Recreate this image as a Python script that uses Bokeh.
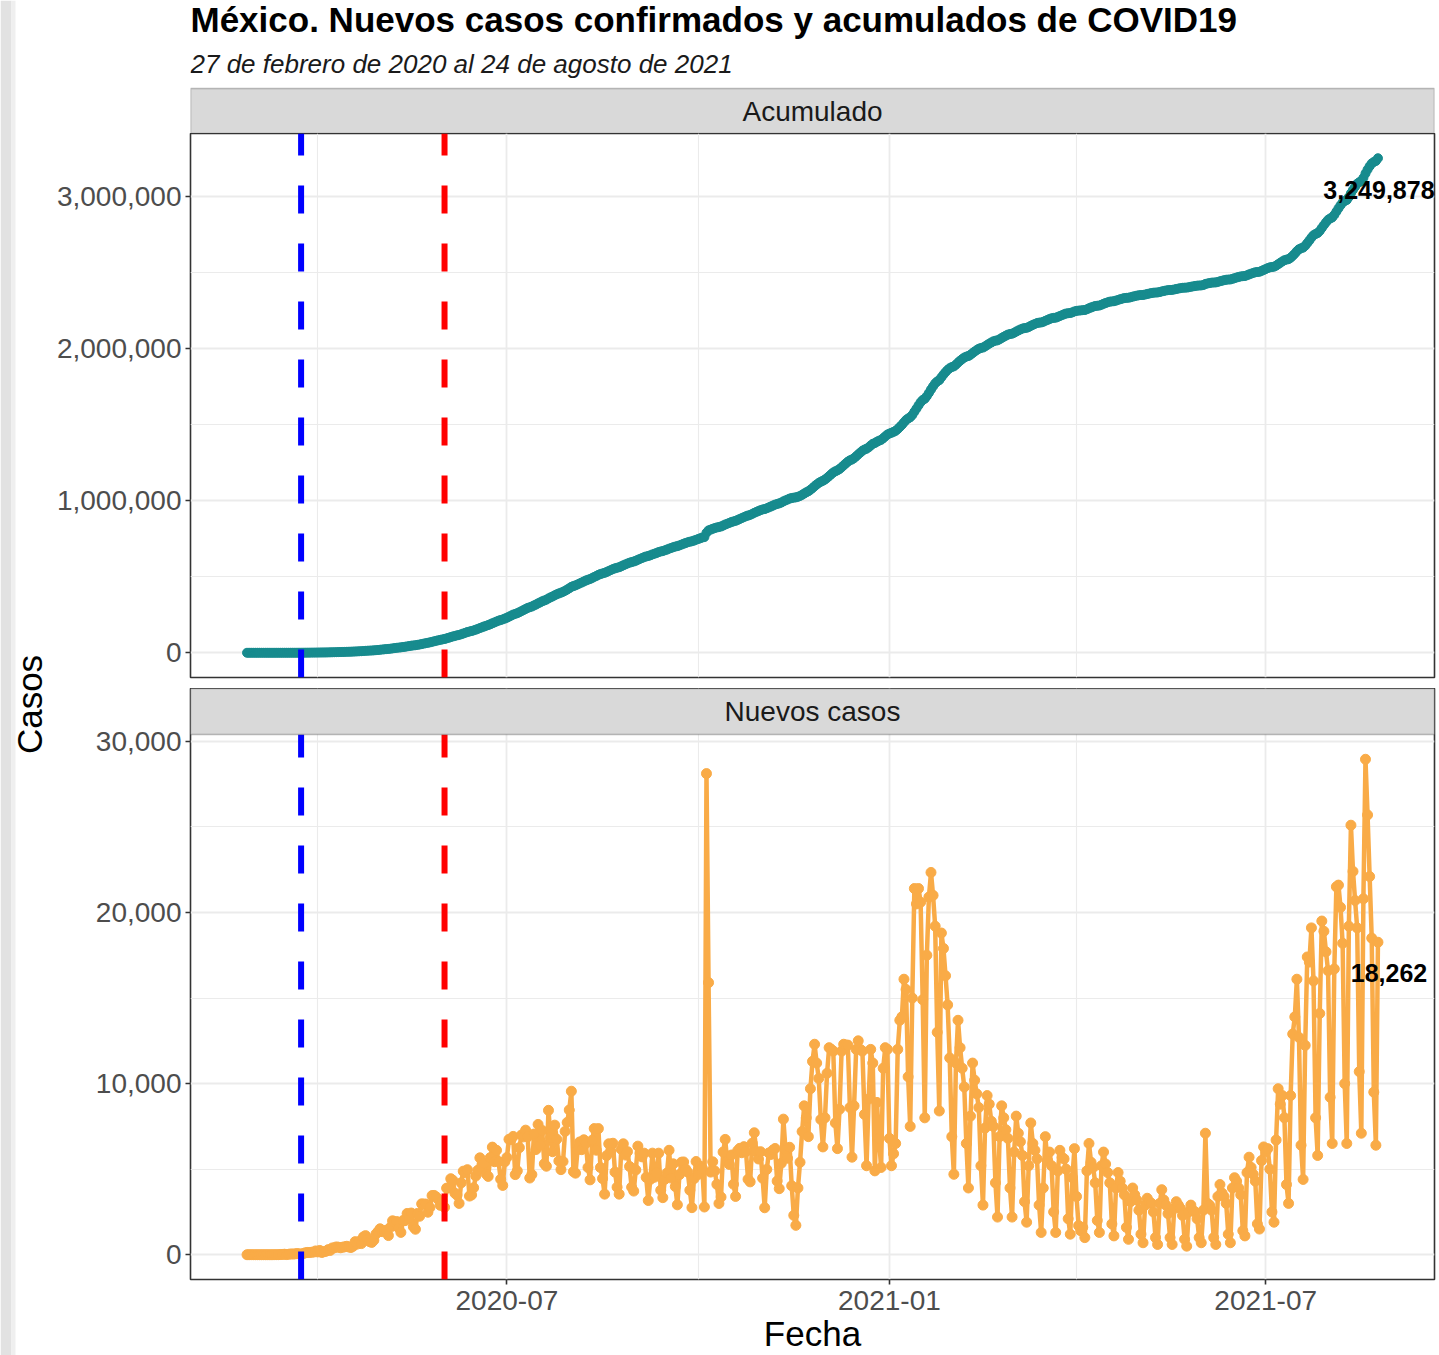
import math
import pandas as pd
from bokeh.plotting import figure
from bokeh.layouts import column, row
from bokeh.models import (ColumnDataSource, Range1d, FixedTicker, NumeralTickFormatter,
                          DatetimeTickFormatter, Label, BoxAnnotation)
from bokeh.embed import file_html
from bokeh.resources import INLINE
from bokeh.core.properties import value

# ---------------- data ----------------
titulo = "México. Nuevos casos confirmados y acumulados de COVID19"
subtitulo = "27 de febrero de 2020 al 24 de agosto de 2021"
panel_acumulado = "Acumulado"
panel_nuevos = "Nuevos casos"
eje_x = "Fecha"
eje_y = "Casos"

fecha_inicio = "2020-02-27"
fecha_fin = "2021-08-24"

# events (vertical dashed lines)
inicio_jornada = "2020-03-24"
fin_jornada = "2020-06-01"

# daily new confirmed cases
nuevos_2020_02 = [1, 1, 2]
nuevos_2020_03 = [1, 0, 1, 0, 0, 1, 0,
                  1, 0, 0, 3, 4, 4, 14,
                  15, 29, 11, 25, 46, 39, 48,
                  65, 51, 38, 70, 110, 132, 131,
                  145, 155, 222]
nuevos_2020_04 = [163, 249, 132, 178, 202, 296, 253,
                  396, 403, 457, 437, 405, 442, 461,
                  494, 450, 422, 493, 764, 622, 779,
                  652, 1043, 1116, 869, 762, 720, 845,
                  1208, 1349]
nuevos_2020_05 = [1515, 1349, 1383, 1434, 1120, 1609, 1982,
                  1906, 1938, 1562, 1305, 1997, 1992, 2409,
                  2112, 2437, 1632, 1489, 2414, 2248, 2973,
                  2960, 2960, 2483, 2764, 3455, 3463, 3377,
                  3227, 2885, 3152]
nuevos_2020_06 = [2771, 3891, 3912, 4442, 4346, 3593, 3484,
                  2999, 4199, 4883, 4790, 4970, 3427, 3494,
                  3912, 4599, 4930, 5662, 5030, 5343, 4717,
                  4577, 5674, 6288, 5437, 6104, 5441, 4410,
                  4050, 5432]
nuevos_2020_07 = [5681, 6741, 6740, 6914, 4683, 4902, 6258,
                  6995, 6887, 7280, 6891, 4482, 4685, 7051,
                  6149, 7615, 6406, 7257, 5311, 5172, 8438,
                  6859, 6019, 7573, 6751, 5480, 4973, 5446,
                  7208, 7730, 8458]
nuevos_2020_08 = [9556, 4853, 4767, 6148, 6590, 6139, 6717,
                  6495, 5097, 4376, 6686, 7371, 6107, 7371,
                  5094, 4448, 3541, 5792, 6482, 6025, 6515,
                  4828, 3948, 3541, 6164, 6482, 5824, 6025,
                  5158, 3948, 3719]
nuevos_2020_09 = [4954, 6345, 5937, 5718, 5936, 4522, 3168,
                  4404, 5937, 4529, 4786, 5935, 3771, 3335,
                  4408, 4771, 6104, 4479, 5312, 3985, 2917,
                  4683, 5408, 5422, 5002, 4828, 3771, 2751,
                  4444, 5447]
nuevos_2020_10 = [4689, 5172, 5054, 2789, 28115, 15900, 4828,
                  5430, 4894, 4112, 2994, 3369, 6004, 6739,
                  5446, 5275, 5827, 4119, 3406, 6081, 6215,
                  5960, 6316, 6025, 4407, 4258, 6519, 7127,
                  6025, 5595, 6022]
nuevos_2020_11 = [4472, 2744, 4985, 5948, 5860, 6117, 6208,
                  4303, 3860, 5344, 7924, 6135, 5636, 6280,
                  4028, 2300, 1718, 3900, 5400, 7200, 8700,
                  8000, 6900, 9700, 11300, 12300, 11200, 10300,
                  7900, 6300]
nuevos_2020_12 = [8000, 10600, 12100, 12000, 11900, 7700, 6200,
                  8500, 11900, 12300, 12250, 12250, 8600, 5700,
                  8700, 12000, 12500, 12000, 11900, 8200, 5200,
                  9100, 12000, 11200, 4900, 8900, 6800, 5100,
                  10900, 12100, 12000]
nuevos_2021_01 = [6800, 5200, 5900, 6500, 12000, 13700, 13900,
                  16100, 15500, 10400, 7500, 15000, 21400, 20500,
                  21400, 20600, 14900, 8000, 17500, 20900, 22339,
                  21000, 19200, 13000, 8400, 18800, 17900, 16300,
                  14600, 11500, 6900]
nuevos_2021_02 = [4700, 11200, 13700, 12100, 10900, 9800, 6500,
                  3900, 8100, 11200, 10200, 9400, 8600, 5200,
                  2900, 7400, 9300, 8800, 7800, 7500, 4200,
                  2200, 6900, 8700, 8000, 7300, 6800, 3900]
nuevos_2021_03 = [2200, 6000, 8100, 7100, 6600, 5800, 3100,
                  1900, 5200, 7700, 6500, 6100, 5600, 2900,
                  1300, 3900, 6900, 5500, 6000, 5200, 2500,
                  1300, 4900, 6100, 5700, 5600, 5000, 2100,
                  1200, 4500, 6200]
nuevos_2021_04 = [3400, 1700, 1400, 1600, 1000, 4900, 6500,
                  5400, 5100, 4200, 2000, 1300, 5200, 6000,
                  5300, 4800, 4200, 1800, 1100, 3900, 4800,
                  4300, 3900, 3500, 1600, 900, 3100, 3900,
                  3500, 3200]
nuevos_2021_05 = [2600, 1200, 700, 2900, 3300, 3100, 3000,
                  2500, 1000, 600, 3000, 3800, 3200, 2900,
                  2400, 1000, 600, 2700, 3100, 2900, 2700,
                  2300, 900, 500, 2500, 2900, 2600, 2500,
                  2100, 1000, 700]
nuevos_2021_06 = [2600, 7100, 3000, 2900, 2600, 1000, 600,
                  3400, 4100, 3600, 3400, 3000, 1200, 700,
                  3900, 4500, 4300, 3900, 3500, 1400, 1100,
                  4800, 5700, 5100, 4700, 4300, 1800, 1500,
                  5500, 6300]
nuevos_2021_07 = [6000, 6200, 5000, 2500, 1900, 6700, 9700,
                  8800, 9300, 8000, 4100, 3000, 9300, 12900,
                  13900, 16100, 12700, 6400, 4400, 12233, 17400,
                  17100, 19100, 16000, 8000, 5800, 14100, 19500,
                  18900, 17700, 16600]
nuevos_2021_08 = [9200, 6500, 16700, 21500, 21600, 20300, 18200,
                  10000, 6500, 19200, 25100, 22400, 20700, 19100,
                  10700, 7100, 20800, 28953, 25700, 22100, 18500,
                  9500, 6400, 18262]

# axis ticks
x_ticks = ["2020-07-01", "2021-01-01", "2021-07-01"]
x_minor = ["2020-04-01", "2020-10-01", "2021-04-01"]
y_ticks_acum = [0, 1_000_000, 2_000_000, 3_000_000]
y_minor_acum = [500_000, 1_500_000, 2_500_000]
y_ticks_nuevos = [0, 10_000, 20_000, 30_000]
y_minor_nuevos = [5_000, 15_000, 25_000]

# ---------------- derived ----------------
nuevos = (nuevos_2020_02 + nuevos_2020_03 + nuevos_2020_04 + nuevos_2020_05 +
          nuevos_2020_06 + nuevos_2020_07 + nuevos_2020_08 + nuevos_2020_09 +
          nuevos_2020_10 + nuevos_2020_11 + nuevos_2020_12 + nuevos_2021_01 +
          nuevos_2021_02 + nuevos_2021_03 + nuevos_2021_04 + nuevos_2021_05 +
          nuevos_2021_06 + nuevos_2021_07 + nuevos_2021_08)
fechas = pd.date_range(fecha_inicio, fecha_fin, freq="D")
if len(fechas) != len(nuevos):
    raise ValueError(f"length mismatch {len(fechas)} vs {len(nuevos)}")
acumulado = pd.Series(nuevos).cumsum().tolist()

src = ColumnDataSource(dict(fecha=fechas, nuevos=nuevos, acumulado=acumulado))


def ms(d):
    return pd.Timestamp(d).value // 10**6


def expand(lo, hi, f=0.05):
    s = hi - lo
    return lo - f * s, hi + f * s


FONT = "Liberation Sans"
TEAL = "#178B8E"
ORANGE = "#F9AB47"
BORDER = "#333333"
GRID = "#EBEBEB"
STRIP = "#D9D9D9"
TICK_TXT = "#4D4D4D"

# layout sizes (px)
PAGE_H = 1355
YLAB_W = 52
W = 1439 - YLAB_W
MBL = 190 - YLAB_W
MBR = 5
FRAME_W = W - MBL - MBR
HEAD_H = 133          # titles + first strip
STRIP_H = 45
TOP_H = 555           # first panel + gap
TOP_GAP = 11
BOT_H = PAGE_H - HEAD_H - TOP_H   # second strip + second panel + x axis
BOT_AXIS = 76
STRIP2_H = 46
BOT_PANEL = BOT_H - BOT_AXIS - STRIP2_H
TITLE_Y = 19          # anchor rows of the title lines, px from the top of the page
SUB_Y = 63

x_lo, x_hi = expand(fechas[0], fechas[-1])
x_range = Range1d(x_lo, x_hi)
yr_acum = Range1d(*expand(min(acumulado), max(acumulado)))
n_lo, n_hi = expand(min(nuevos), max(nuevos))
# the second strip sits inside the bottom frame, above the data area
n_top = n_hi + STRIP2_H * (n_hi - n_lo) / BOT_PANEL
yr_nuevos = Range1d(n_lo, n_top)


def base(height, **kw):
    p = figure(width=W, height=height, toolbar_location=None, output_backend="svg",
               min_border_left=MBL, min_border_right=MBR, title=None, **kw)
    p.outline_line_color = BORDER
    p.outline_line_width = 1.6
    p.border_fill_color = "white"
    return p


def style_y(p, ticks, minor):
    ax = p.yaxis[0]
    ax.ticker = FixedTicker(ticks=ticks, minor_ticks=minor)
    ax.formatter = NumeralTickFormatter(format="0,0")
    ax.axis_line_color = None
    ax.major_tick_line_color = BORDER
    ax.major_tick_line_width = 1.6
    ax.major_tick_out = 5
    ax.major_tick_in = 0
    ax.minor_tick_line_color = None
    ax.major_label_text_font = FONT
    ax.major_label_text_font_size = "28px"
    ax.major_label_text_color = TICK_TXT
    ax.major_label_standoff = 4
    p.ygrid.grid_line_color = GRID
    p.ygrid.grid_line_width = 1.8
    p.ygrid.minor_grid_line_color = GRID
    p.ygrid.minor_grid_line_width = 1.1


def style_xgrid(p, ticker):
    p.xgrid.ticker = ticker
    p.xgrid.grid_line_color = GRID
    p.xgrid.grid_line_width = 1.8
    p.xgrid.minor_grid_line_color = GRID
    p.xgrid.minor_grid_line_width = 1.1


def vlines(p, y0, y1):
    vs = ColumnDataSource(dict(x=pd.to_datetime([inicio_jornada, fin_jornada]),
                               y0=[y0, y0], y1=[y1, y1],
                               c=["#0000FF", "#FF0000"]))
    p.segment(x0="x", y0="y0", x1="x", y1="y1", source=vs, line_color="c",
              line_width=6, line_dash="28 30")


x_fixed = FixedTicker(ticks=[ms(d) for d in x_ticks], minor_ticks=[ms(d) for d in x_minor])

# ---- header: titles + first strip (pixel coordinates inside the header)
head = base(HEAD_H, x_range=Range1d(0, FRAME_W), y_range=Range1d(0, HEAD_H),
            x_axis_location=None, y_axis_location=None,
            min_border_top=0, min_border_bottom=0)
head.grid.visible = False
head.outline_line_color = None
head.background_fill_color = "white"
head.add_layout(BoxAnnotation(top=STRIP_H, fill_color=STRIP, fill_alpha=1.0,
                              line_color=BORDER, line_width=1.6))
head.add_layout(Label(x=FRAME_W / 2, y=STRIP_H / 2, text=panel_acumulado, text_align="center",
                      text_baseline="middle", text_font=FONT, text_font_size="28px",
                      text_color="#1A1A1A"))
head.add_layout(Label(x=0, y=HEAD_H - TITLE_Y, text=titulo, text_align="left",
                      text_baseline="alphabetic", text_font=FONT, text_font_size="35px",
                      text_font_style="bold", text_color="#000000"))
head.add_layout(Label(x=0, y=HEAD_H - SUB_Y, text=subtitulo, text_align="left",
                      text_baseline="alphabetic", text_font=FONT, text_font_size="26px",
                      text_font_style="italic", text_color="#1A1A1A"))

# ---- top panel
top = base(TOP_H, x_range=x_range, y_range=yr_acum, x_axis_type="datetime",
           x_axis_location=None, min_border_top=0, min_border_bottom=TOP_GAP)
style_y(top, y_ticks_acum, y_minor_acum)
style_xgrid(top, x_fixed)
top.line("fecha", "acumulado", source=src, line_color=TEAL, line_width=4)
top.scatter("fecha", "acumulado", source=src, size=9, color=TEAL)
vlines(top, yr_acum.start, yr_acum.end)
lab_top = ColumnDataSource(dict(x=[fechas[-1]], y=[acumulado[-1]],
                                t=[f"{int(acumulado[-1]):,}"]))
top.text("x", "y", text="t", source=lab_top, text_font=value(FONT), text_font_size="25px",
         text_font_style="bold", text_color="black", text_align="center",
         text_baseline="middle", x_offset=1, y_offset=32)

# ---- bottom panel (with its strip on top of the frame)
bot = base(BOT_H, x_range=x_range, y_range=yr_nuevos, x_axis_type="datetime",
           min_border_top=0, min_border_bottom=BOT_AXIS)
style_y(bot, y_ticks_nuevos, y_minor_nuevos)
style_xgrid(bot, x_fixed)
xa = bot.xaxis[0]
xa.ticker = x_fixed
xa.formatter = DatetimeTickFormatter(days="%Y-%m", months="%Y-%m", years="%Y-%m")
xa.axis_line_color = None
xa.major_tick_line_color = BORDER
xa.major_tick_line_width = 1.6
xa.major_tick_out = 5
xa.major_tick_in = 0
xa.minor_tick_line_color = None
xa.major_label_text_font = FONT
xa.major_label_text_font_size = "28px"
xa.major_label_text_color = TICK_TXT
xa.major_label_standoff = 6
xa.axis_label = eje_x
xa.axis_label_text_font = FONT
xa.axis_label_text_font_size = "35px"
xa.axis_label_text_font_style = "normal"
xa.axis_label_text_color = "#000000"
xa.axis_label_standoff = 1
bot.line("fecha", "nuevos", source=src, line_color=ORANGE, line_width=4.5)
bot.scatter("fecha", "nuevos", source=src, size=10, color=ORANGE)
vlines(bot, n_lo, n_hi)
lab_bot = ColumnDataSource(dict(x=[fechas[-1]], y=[nuevos[-1]], t=[f"{int(nuevos[-1]):,}"]))
bot.text("x", "y", text="t", source=lab_bot, text_font=value(FONT), text_font_size="25px",
         text_font_style="bold", text_color="black", text_align="center",
         text_baseline="middle", x_offset=11, y_offset=31)
bot.add_layout(BoxAnnotation(bottom=n_hi, fill_color=STRIP, fill_alpha=1.0,
                             line_color=BORDER, line_width=1.6, level="annotation"))
bot.add_layout(Label(x=x_lo + (x_hi - x_lo) / 2, y=(n_hi + n_top) / 2, text=panel_nuevos,
                     text_align="center", text_baseline="middle", text_font=FONT,
                     text_font_size="28px", text_color="#1A1A1A"))

# ---- y axis title column (with the grey page edge of the picture)
ylab = figure(width=YLAB_W, height=PAGE_H, x_range=Range1d(0, YLAB_W), y_range=Range1d(0, PAGE_H),
              x_axis_location=None, y_axis_location=None, toolbar_location=None,
              output_backend="svg", min_border=0, title=None)
ylab.grid.visible = False
ylab.outline_line_color = None
ylab.add_layout(BoxAnnotation(left=0, right=11, fill_color="#E2E2E2", fill_alpha=1.0,
                              line_color=None))
ylab.add_layout(BoxAnnotation(left=11, right=15, fill_color="#EFEFEF", fill_alpha=1.0,
                              line_color=None))
ylab.add_layout(Label(x=29, y=PAGE_H - 704, text=eje_y, angle=math.pi / 2,
                      text_align="center", text_baseline="middle",
                      text_font=FONT, text_font_size="35px", text_color="#000000"))

layout = row(ylab, column(head, top, bot, spacing=0), spacing=0)

open("out.html", "w").write(file_html(layout, INLINE))
